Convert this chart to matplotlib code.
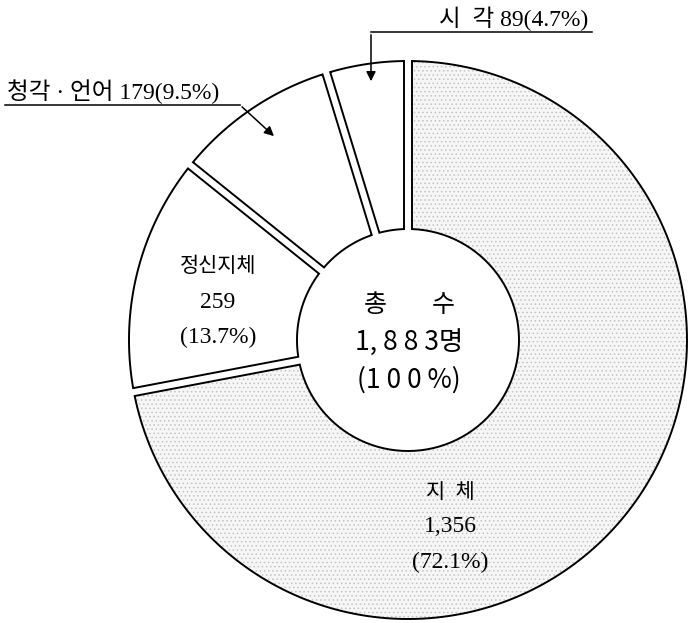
import numpy as np
import matplotlib.pyplot as plt
from matplotlib.patches import Polygon

# data
categories = ['지  체', '정신지체', '청각 · 언어', '시  각']
counts = [1356, 259, 179, 89]
percents = [72.1, 13.7, 9.5, 4.7]
total = 1883

plt.rcParams['hatch.linewidth'] = 0.6

W, H = 688, 623
fig = plt.figure(figsize=(W / 100, H / 100), dpi=100)
ax = fig.add_axes([0, 0, 1, 1])
ax.set_xlim(0, W)
ax.set_ylim(0, H)
ax.set_aspect('equal')
ax.axis('off')

cx, cy = 408, H - 340
r_out, r_in = 279, 111
gap = 4  # half of the white strip between slices


def ring_slice(a1, a2):
    # clockwise slice from a1 down to a2 (degrees), with parallel gaps
    do = np.degrees(np.arcsin(gap / r_out))
    di = np.degrees(np.arcsin(gap / r_in))
    t_out = np.radians(np.linspace(a1 - do, a2 + do, 200))
    t_in = np.radians(np.linspace(a2 + di, a1 - di, 80))
    xs = np.concatenate([cx + r_out * np.cos(t_out), cx + r_in * np.cos(t_in)])
    ys = np.concatenate([cy + r_out * np.sin(t_out), cy + r_in * np.sin(t_in)])
    return np.column_stack([xs, ys])


fracs = np.array(counts) / total
start = 90.0
for i, f in enumerate(fracs):
    a1 = start
    a2 = start - 360 * f
    pts = ring_slice(a1, a2)
    if i == 0:
        ax.add_patch(Polygon(pts, closed=True, facecolor='#f6f6f6',
                             edgecolor='#c4c4c4', lw=0, hatch='....'))
    ax.add_patch(Polygon(pts, closed=True, fill=False, edgecolor='black', lw=1.4))
    start = a2

serif = ['Liberation Serif', 'Noto Sans CJK KR']
sans = ['Noto Sans CJK KR', 'DejaVu Sans']

# inside labels
ax.text(218, H - 267, categories[1], family=serif, fontsize=15, ha='center', va='center')
ax.text(218, H - 302, f'{counts[1]}', family=serif, fontsize=17, ha='center', va='center')
ax.text(218, H - 337, f'({percents[1]}%)', family=serif, fontsize=17, ha='center', va='center')

ax.text(450, H - 493, categories[0], family=serif, fontsize=15, ha='center', va='center')
ax.text(450, H - 527, f'{counts[0]:,}', family=serif, fontsize=17, ha='center', va='center')
ax.text(450, H - 562, f'({percents[0]}%)', family=serif, fontsize=17, ha='center', va='center')

# centre total
ax.text(409, H - 305, '총        수', family=sans, fontsize=18, ha='center', va='center')
ax.text(409, H - 342, '1, 8 8 3명', family=sans, fontsize=19, ha='center', va='center')
ax.text(409, H - 380, '(1 0 0 %)', family=sans, fontsize=19, ha='center', va='center')

# outside labels with leader arrows
ax.text(588, H - 19, f'{categories[3]} {counts[3]}({percents[3]}%)', family=serif,
        fontsize=17, ha='right', va='center')
ax.plot([592, 371], [H - 32, H - 32], color='black', lw=1.1)
ax.annotate('', xy=(371, H - 84), xytext=(371, H - 32),
            arrowprops=dict(arrowstyle='-|>', color='black', lw=1.1, mutation_scale=14))

ax.text(7, H - 92, f'{categories[2]} {counts[2]}({percents[2]}%)', family=serif,
        fontsize=17, ha='left', va='center')
ax.plot([5, 240], [H - 105, H - 105], color='black', lw=1.1)
ax.annotate('', xy=(276, H - 138), xytext=(240, H - 105),
            arrowprops=dict(arrowstyle='-|>', color='black', lw=1.1, mutation_scale=14))

fig.savefig('out.png', dpi=100)
